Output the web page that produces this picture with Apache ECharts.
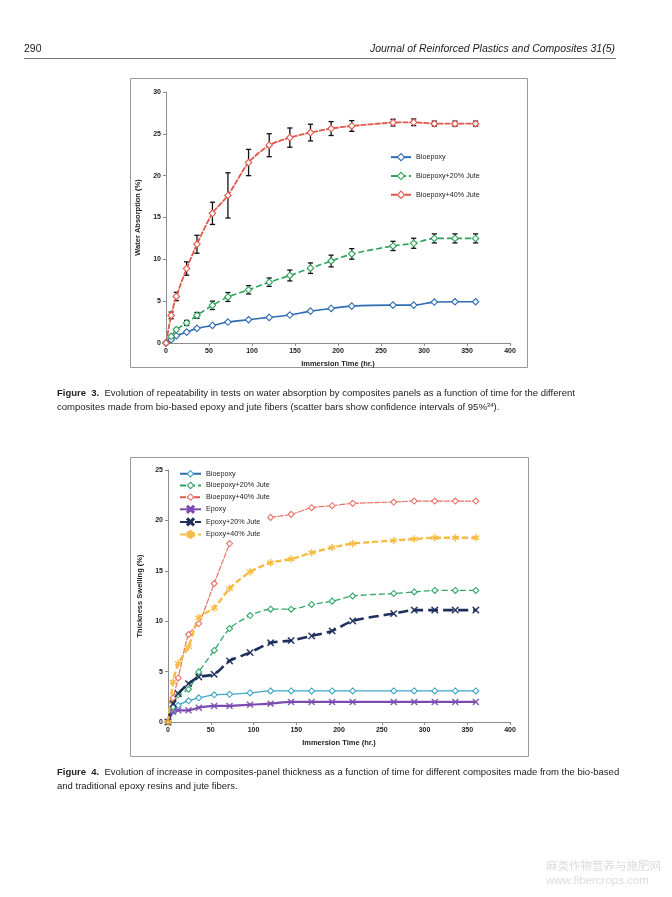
<!DOCTYPE html>
<html><head><meta charset="utf-8">
<script src="https://cdn.jsdelivr.net/npm/echarts@6/dist/echarts.min.js"></script>
<style>html,body{margin:0;padding:0;background:#fff}#c{width:672px;height:897px}</style>
</head><body><div id="c"></div>
<script>
// ---------- data ----------
const hours = [0,6,12,24,36,54,72,96,120,144,168,192,216,264,288,312,336,360];
const xTicks = [0,50,100,150,200,250,300,350,400];
// Figure 3 (water absorption %)
const wa_bio   = [0,0.4,0.87,1.3,1.75,2.1,2.5,2.78,3.06,3.34,3.81,4.13,4.41,4.53,4.53,4.89,4.93,4.93];
const wa_j20   = [0,0.8,1.6,2.4,3.3,4.5,5.5,6.36,7.27,8.07,8.94,9.8,10.65,11.6,11.92,12.5,12.5,12.5];
const wa_j40   = [0,3.3,5.56,8.9,11.8,15.5,17.64,21.57,23.64,24.55,25.15,25.63,25.94,26.34,26.38,26.22,26.22,26.22];
const wa_j20_err = [null,null,null,0.3,0.35,0.5,0.53,0.5,0.5,0.65,0.63,0.7,0.63,0.55,0.6,0.54,0.54,0.54];
const wa_j40_err = [null,0.4,0.5,0.8,1.07,1.33,2.7,1.57,1.37,1.15,1.0,0.83,0.64,0.4,0.4,0.3,0.3,0.3];
// Figure 4 (thickness swelling %)
const ts_bio   = [0,1.1,1.66,2.1,2.4,2.7,2.75,2.88,3.08,3.08,3.08,3.08,3.08,3.08,3.08,3.08,3.08,3.08];
const ts_j20   = [0,1.5,2.7,3.25,4.97,7.1,9.27,10.56,11.19,11.19,11.66,11.99,12.5,12.75,12.9,13.05,13.05,13.05];
const ts_j40   = [0,2.4,4.37,8.68,9.77,13.74,17.7,null,20.3,20.6,21.26,21.46,21.69,21.82,21.92,21.92,21.92,21.92];
const ts_ep    = [0,1.0,1.16,1.16,1.42,1.59,1.59,1.72,1.82,1.99,1.99,1.99,1.99,1.99,1.99,1.99,1.99,1.99];
const ts_ep20  = [0,1.8,2.8,3.8,4.47,4.73,6.06,6.89,7.85,8.08,8.54,9.04,10.03,10.76,11.1,11.1,11.1,11.1];
const ts_ep40  = [0,3.97,5.8,7.45,10.33,11.32,13.24,14.9,15.8,16.16,16.8,17.3,17.7,18.0,18.15,18.28,18.28,18.28];

const names3 = ['Bioepoxy','Bioepoxy+20% Jute','Bioepoxy+40% Jute'];
const names4 = ['Bioepoxy','Bioepoxy+20% Jute','Bioepoxy+40% Jute','Epoxy','Epoxy+20% Jute','Epoxy+40% Jute'];

// ---------- helpers ----------
const pair = (ys) => hours.map((h,i)=>[h, ys[i]]);
const errs = (ys, es) => hours.map((h,i)=> es[i]==null ? null : [h, ys[i]-es[i], ys[i]+es[i]]).filter(d=>d);
const XSYM = 'path://M0,1.2L1.2,0L5,3.8L8.8,0L10,1.2L6.2,5L10,8.8L8.8,10L5,6.2L1.2,10L0,8.8L3.8,5Z';
const STAR = 'path://M4.3,0H5.7V3.3L8.6,1.6L9.3,2.8L6.4,4.5L9.3,6.2L8.6,7.4L5.7,5.7V9H4.3V5.7L1.4,7.4L0.7,6.2L3.6,4.5L0.7,2.8L1.4,1.6L4.3,3.3Z';
const FONT = 'Liberation Sans';

function lineSeries(name, ys, color, lt, lw, sym, size, gi, hollow){
  return {
    type:'line', name, data: pair(ys), xAxisIndex:gi, yAxisIndex:gi,
    smooth:0.25, connectNulls:false, symbol:sym, symbolSize:size, showSymbol:true,
    lineStyle:{color, width:lw, type:lt},
    itemStyle: hollow ? {color:'#fff', borderColor:color, borderWidth:1.1} : {color, borderColor:color, borderWidth:0.3},
    z:3, animation:false
  };
}
function errSeries(data, gi){
  return {
    type:'custom', xAxisIndex:gi, yAxisIndex:gi, data, z:2, animation:false,
    encode:{x:0, y:[1,2]},
    renderItem(params, api){
      const x = api.value(0), lo = api.value(1), hi = api.value(2);
      const a = api.coord([x, hi]), b = api.coord([x, lo]);
      const w = 2.6, st = {stroke:'#111', lineWidth:1.3};
      return {type:'group', children:[
        {type:'line', shape:{x1:a[0],y1:a[1],x2:b[0],y2:b[1]}, style:st},
        {type:'line', shape:{x1:a[0]-w,y1:a[1],x2:a[0]+w,y2:a[1]}, style:st},
        {type:'line', shape:{x1:b[0]-w,y1:b[1],x2:b[0]+w,y2:b[1]}, style:st}
      ]};
    }
  };
}
const axisLbl = {fontFamily:FONT, fontSize:7, fontWeight:'bold', color:'#222'};
function xAx(gi){
  return {type:'value', gridIndex:gi, min:xTicks[0], max:xTicks[xTicks.length-1], interval:50,
    name:'Immersion Time (hr.)', nameLocation:'middle', nameGap:17,
    nameTextStyle:{fontFamily:FONT, fontSize:7.5, fontWeight:'bold', color:'#222'},
    axisLine:{lineStyle:{color:'#8c8c8c', width:1}}, axisTick:{show:true, length:3, lineStyle:{color:'#8c8c8c'}},
    axisLabel:Object.assign({margin:5}, axisLbl), splitLine:{show:false}};
}
function yAx(gi, max, name){
  return {type:'value', gridIndex:gi, min:0, max, interval:5,
    name, nameLocation:'middle', nameGap:17,
    nameTextStyle:{fontFamily:FONT, fontSize:7.5, fontWeight:'bold', color:'#222'},
    axisLine:{show:true, lineStyle:{color:'#8c8c8c', width:1}}, axisTick:{show:true, length:3, lineStyle:{color:'#8c8c8c'}},
    axisLabel:Object.assign({margin:5}, axisLbl), splitLine:{show:false}};
}

const C3 = {blue:'#2f6cb3', green:'#2ea25a', red:'#e2574c'};
const C4 = {cyan:'#3fa6c7', green:'#33a86a', red:'#e8746a', purple:'#7b4bb0', navy:'#1f2f5c', gold:'#f6bb42'};
const hollowLeg = (name, color) => ({name, itemStyle:{color:'#fff', borderColor:color, borderWidth:1.1}});

const series = [
  errSeries(errs(wa_j20, wa_j20_err), 0),
  errSeries(errs(wa_j40, wa_j40_err), 0),
  lineSeries(names3[0], wa_bio, C3.blue, 'solid', 1.6, 'diamond', 6.5, 0, true),
  lineSeries(names3[1], wa_j20, C3.green, [6,3], 1.6, 'diamond', 6.5, 0, true),
  lineSeries(names3[2], wa_j40, C3.red, [6,1], 1.8, 'diamond', 6.5, 0, true),
  lineSeries(names4[0], ts_bio, C4.cyan, 'solid', 1.3, 'diamond', 6, 1, true),
  lineSeries(names4[1], ts_j20, C4.green, [6,3], 1.3, 'diamond', 6, 1, true),
  lineSeries(names4[2], ts_j40, C4.red, [6,1], 1.2, 'diamond', 6, 1, true),
  lineSeries(names4[3], ts_ep, C4.purple, 'solid', 2.2, XSYM, 6.5, 1, false),
  lineSeries(names4[4], ts_ep20, C4.navy, [10,5], 2.6, XSYM, 7, 1, false),
  lineSeries(names4[5], ts_ep40, C4.gold, [6,3], 2.4, STAR, 7, 1, false)
];

const capFont = {fontFamily:FONT, fontSize:9.5, fill:'#222'};
const option = {
  backgroundColor:'#fff',
  animation:false,
  grid:[
    {left:166, top:92, width:344, height:251},
    {left:168, top:470, width:342, height:252}
  ],
  xAxis:[xAx(0), xAx(1)],
  yAxis:[yAx(0,30,'Water Absorption (%)'), yAx(1,25,'Thickness Swelling (%)')],
  legend:[
    {data:[hollowLeg(names3[0],C3.blue), hollowLeg(names3[1],C3.green), hollowLeg(names3[2],C3.red)],
     orient:'vertical', left:385, top:148, itemWidth:20, itemHeight:9, itemGap:10.5,
     textStyle:{fontFamily:FONT, fontSize:7.2, color:'#222'}},
    {data:[hollowLeg(names4[0],C4.cyan), hollowLeg(names4[1],C4.green), hollowLeg(names4[2],C4.red),
           {name:names4[3]}, {name:names4[4]}, {name:names4[5]}],
     orient:'vertical', left:174, top:465, itemWidth:21, itemHeight:8, itemGap:4.2,
     textStyle:{fontFamily:FONT, fontSize:7.2, color:'#222'}}
  ],
  series,
  graphic:[
    {type:'rect', shape:{x:130.5, y:78.5, width:397, height:289}, style:{fill:'none', stroke:'#9a9a9a', lineWidth:1}, z:-1},
    {type:'rect', shape:{x:130.5, y:457.5, width:398, height:299}, style:{fill:'none', stroke:'#9a9a9a', lineWidth:1}, z:-1},
    {type:'text', left:24, top:44, style:{text:'290', fontFamily:FONT, fontSize:10.5, fill:'#222'}},
    {type:'text', right:57, top:44, style:{text:'Journal of Reinforced Plastics and Composites 31(5)', fontFamily:FONT, fontStyle:'italic', fontSize:10.5, fill:'#222'}},
    {type:'line', shape:{x1:24, y1:58.5, x2:616, y2:58.5}, style:{stroke:'#555', lineWidth:0.8}},
    {type:'text', left:57, top:388, style:{text:'{b|Figure  3.}  Evolution of repeatability in tests on water absorption by composites panels as a function of time for the different',
      rich:{b:{fontWeight:'bold', fontFamily:FONT, fontSize:9.5}}, ...capFont}},
    {type:'text', left:57, top:402, style:{text:'composites made from bio-based epoxy and jute fibers (scatter bars show confidence intervals of 95%{s|34}).',
      rich:{s:{fontFamily:FONT, fontSize:6, verticalAlign:'top', padding:[0,0,5,0]}}, ...capFont}},
    {type:'text', left:57, top:767, style:{text:'{b|Figure  4.}  Evolution of increase in composites-panel thickness as a function of time for different composites made from the bio-based',
      rich:{b:{fontWeight:'bold', fontFamily:FONT, fontSize:9.5}}, ...capFont}},
    {type:'text', left:57, top:781, style:{text:'and traditional epoxy resins and jute fibers.', ...capFont}},
    {type:'text', left:546, top:860, style:{text:'麻类作物营养与施肥网', fontFamily:'Noto Sans CJK SC', fontSize:11.5, fill:'#dcdcdc'}},
    {type:'text', left:546, top:875, style:{text:'www.fibercrops.com', fontFamily:FONT, fontSize:11.5, fill:'#dcdcdc'}}
  ]
};
const chart = echarts.init(document.getElementById('c'), null, {renderer:'canvas'});
chart.setOption(option);
</script></body></html>
